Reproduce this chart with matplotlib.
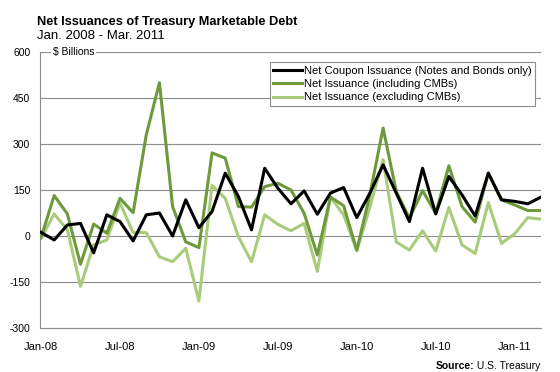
import matplotlib.pyplot as plt

plt.rcParams['font.family'] = ['Liberation Sans', 'DejaVu Sans']

# monthly, Jan 2008 .. Mar 2011
months = ['Jan-08', 'Feb-08', 'Mar-08', 'Apr-08', 'May-08', 'Jun-08',
          'Jul-08', 'Aug-08', 'Sep-08', 'Oct-08', 'Nov-08', 'Dec-08',
          'Jan-09', 'Feb-09', 'Mar-09', 'Apr-09', 'May-09', 'Jun-09',
          'Jul-09', 'Aug-09', 'Sep-09', 'Oct-09', 'Nov-09', 'Dec-09',
          'Jan-10', 'Feb-10', 'Mar-10', 'Apr-10', 'May-10', 'Jun-10',
          'Jul-10', 'Aug-10', 'Sep-10', 'Oct-10', 'Nov-10', 'Dec-10',
          'Jan-11', 'Feb-11', 'Mar-11']

coupon = [12, -13, 36, 41, -55, 69, 47, -16, 69, 75, 0, 118,
          27, 80, 205, 129, 20, 221, 156, 105, 147, 71, 140, 158,
          60, 140, 232, 140, 47, 221, 72, 194, 134, 65, 205, 118,
          113, 105, 127]
incl_cmb = [-5, 132, 72, -92, 39, 9, 123, 76, 330, 500, 96, -19,
            -38, 271, 254, 96, 94, 161, 172, 150, 74, -62, 127, 99,
            -46, 135, 352, 145, 58, 148, 74, 229, 96, 45, 205, 118,
            101, 83, 83]
excl_cmb = [-8, 72, 20, -164, -29, -13, 107, 11, 11, -68, -84, -40,
            -212, 165, 123, -2, -84, 69, 38, 17, 41, -115, 127, 69,
            -48, 95, 249, -19, -46, 17, -49, 93, -29, -57, 109, -24,
            7, 60, 55]

yticks = [-300, -150, 0, 150, 300, 450, 600]

fig = plt.figure(figsize=(5.6, 3.72), dpi=100)
ax = fig.add_axes([0.0714, 0.1183, 0.8946, 0.7419])

x = list(range(len(months)))
ax.plot(x, coupon, color='black', lw=2.2,
        label='Net Coupon Issuance (Notes and Bonds only)', zorder=4)
ax.plot(x, incl_cmb, color='#6e9a3c', lw=2.2,
        label='Net Issuance (including CMBs)', zorder=3)
ax.plot(x, excl_cmb, color='#a9cc7c', lw=2.2,
        label='Net Issuance (excluding CMBs)', zorder=2)

ax.set_xlim(-0.08, 38.0)
ax.set_ylim(-300, 600)
ax.set_yticks(yticks)
ax.set_yticklabels([str(v) for v in yticks], fontsize=7.5)
ax.set_xticks(x[::6])
ax.set_xticklabels(months[::6], fontsize=8)
ax.tick_params(axis='both', length=0, colors='black')
ax.tick_params(axis='y', pad=7)
ax.tick_params(axis='x', pad=10)

ax.grid(axis='y', color='#8c8c8c', lw=0.8, zorder=0)
for side in ['top', 'right']:
    ax.spines[side].set_visible(False)
for side in ['left', 'bottom']:
    ax.spines[side].set_color('#8c8c8c')
    ax.spines[side].set_linewidth(0.8)

ax.text(0.9, 600, '$ Billions', fontsize=7.5, va='center', ha='left',
        bbox=dict(facecolor='white', edgecolor='none', pad=1.5), zorder=5)

leg = ax.legend(loc='upper right', bbox_to_anchor=(0.988, 0.962),
                fontsize=8, frameon=True, fancybox=False, framealpha=1,
                edgecolor='#8c8c8c', borderpad=0.3, labelspacing=0.3,
                handlelength=2.6, handletextpad=0.15, borderaxespad=0)
leg.get_frame().set_linewidth(0.8)
leg.set_zorder(6)

fig.text(0.066, 0.933, 'Net Issuances of Treasury Marketable Debt',
         fontsize=9.2, fontweight='bold', va='baseline')
fig.text(0.066, 0.895, 'Jan. 2008 - Mar. 2011', fontsize=9.5,
         va='baseline')

src = fig.text(0.965, 0.008, ' U.S. Treasury', fontsize=7.5, ha='right',
               va='baseline')
fig.canvas.draw()
bb = src.get_window_extent().transformed(fig.transFigure.inverted())
fig.text(bb.x0, 0.008, 'Source:', fontsize=7.5, fontweight='bold',
         ha='right', va='baseline')

fig.savefig('out.png', dpi=100)
